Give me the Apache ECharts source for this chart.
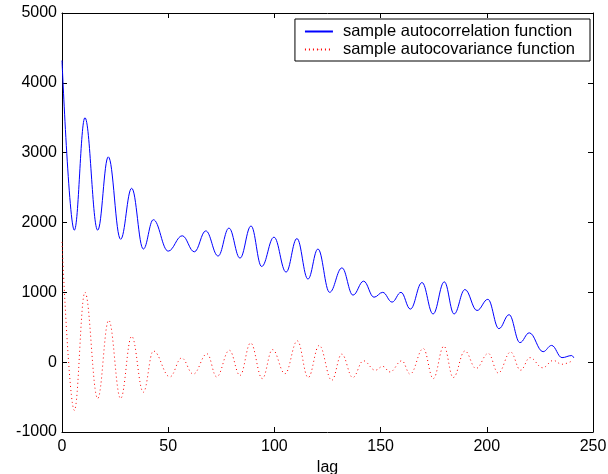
<!DOCTYPE html>
<html>
<head>
<meta charset="utf-8">
<script src="https://cdn.jsdelivr.net/npm/echarts@6/dist/echarts.min.js"></script>
<style>html,body{margin:0;padding:0;background:#fff;}#c{width:608px;height:474px;}</style>
</head>
<body>
<div id="c"></div>
<script>
// Sample autocorrelation function: extrema (lag, value)
const corrLag = [0, 5.8, 10.8, 16.8, 21.8, 27.6, 32.8, 38.3, 43, 50, 56.6, 62.3, 67.7, 73.5, 78.6, 83.8, 89, 94, 99.8, 105.5, 110.6, 115.8, 120.5, 126, 131.8, 137, 142, 146.9, 151, 155.4, 159.6, 164, 169.5, 174.7, 180, 184.6, 189.7, 195.4, 200.5, 205.7, 210.5, 215.6, 220, 226.5, 230.5, 235.4, 240, 241];
const corrVal = [4320, 1890, 3500, 1890, 2940, 1760, 2490, 1620, 2040, 1590, 1810, 1580, 1880, 1520, 1920, 1490, 1950, 1370, 1790, 1290, 1770, 1190, 1620, 1000, 1350, 960, 1160, 930, 1000, 860, 1000, 760, 1140, 690, 1150, 690, 1040, 740, 900, 480, 680, 280, 420, 150, 240, 65, 95, 60];
// Sample autocovariance function
const covLag = [0, 5.8, 10.8, 16.8, 22, 27.6, 32.8, 38.3, 43, 50.8, 56.3, 61.8, 68.3, 72.8, 78.8, 83.8, 88.8, 94.3, 99.1, 105, 110.8, 115.9, 121.1, 127, 131.7, 136.9, 141.9, 147.5, 151, 154.4, 160, 163.9, 170.1, 174.8, 179.8, 184.2, 189.7, 194.9, 200.7, 205.4, 211.2, 215.9, 220.3, 226.3, 231.3, 235.3, 240];
const covVal = [1720, -690, 1000, -520, 600, -520, 370, -430, 160, -210, 60, -170, 120, -210, 170, -190, 275, -235, 180, -165, 305, -220, 240, -260, 115, -220, 20, -115, -60, -140, 20, -170, 195, -235, 230, -220, 160, -90, 125, -155, 145, -115, 65, -80, 25, -30, 15];
const xTicks = [0, 50, 100, 150, 200, 250];
const yTicks = [-1000, 0, 1000, 2000, 3000, 4000, 5000];
const seriesNames = ['sample autocorrelation function', 'sample autocovariance function'];
const seriesColors = ['#0000ff', '#ff0000'];

const zip = (a, b) => a.map((v, i) => [v, b[i]]);
const font = 'Liberation Sans, Arial, Helvetica, sans-serif';
const chart = echarts.init(document.getElementById('c'), null, {renderer: 'canvas'});
const axisCommon = {
  axisLine: {show: true, onZero: false, lineStyle: {color: '#000', width: 1}},
  axisTick: {show: true, inside: true, length: 5, lineStyle: {color: '#000'}},
  splitLine: {show: false}
};
const plain = v => String(v);
// legend icons: a solid line and a dotted line (filled paths)
const solidIcon = 'path://M0,0H28V1H0Z';
let dotted = '';
for (let k = 0; k < 28; k += 4) dotted += 'M' + k + ',0h1v1h-1z';
const dottedIcon = 'path://' + dotted;

chart.setOption({
  backgroundColor: '#fff',
  animation: false,
  grid: {left: 62, right: 15, top: 13, bottom: 42, containLabel: false, outerBoundsMode: 'none'},
  legend: {
    data: seriesNames,
    orient: 'vertical',
    right: 18, top: 19,
    padding: [4, 15, 3, 9],
    itemWidth: 28, itemHeight: 1, itemGap: 1,
    symbolKeepAspect: false,
    backgroundColor: '#fff',
    borderColor: '#000', borderWidth: 1,
    textStyle: {fontFamily: font, fontSize: 16.5, color: '#000', padding: [0, 0, 0, 5]}
  },
  xAxis: [
    Object.assign({type: 'value', min: xTicks[0], max: xTicks[xTicks.length - 1], interval: 50,
      position: 'bottom',
      name: 'lag', nameLocation: 'middle', nameGap: 24,
      nameTextStyle: {fontFamily: font, fontSize: 16, color: '#000'},
      axisLabel: {fontFamily: font, fontSize: 16, color: '#000', margin: 7, formatter: plain}}, axisCommon),
    Object.assign({type: 'value', min: xTicks[0], max: xTicks[xTicks.length - 1], interval: 50,
      position: 'top', axisLabel: {show: false}}, axisCommon)
  ],
  yAxis: [
    Object.assign({type: 'value', min: yTicks[0], max: yTicks[yTicks.length - 1], interval: 1000,
      position: 'left',
      axisLabel: {fontFamily: font, fontSize: 16, color: '#000', margin: 5, formatter: plain}}, axisCommon),
    Object.assign({type: 'value', min: yTicks[0], max: yTicks[yTicks.length - 1], interval: 1000,
      position: 'right', axisLabel: {show: false}}, axisCommon)
  ],
  series: [
    {
      name: seriesNames[0], type: 'line', xAxisIndex: 0, yAxisIndex: 0,
      data: zip(corrLag, corrVal),
      showSymbol: false, symbol: 'none',
      legendIcon: solidIcon,
      smooth: 0.4, smoothMonotone: 'x',
      lineStyle: {color: seriesColors[0], width: 1},
      itemStyle: {color: seriesColors[0]}
    },
    {
      name: seriesNames[1], type: 'line', xAxisIndex: 0, yAxisIndex: 0,
      data: zip(covLag, covVal),
      showSymbol: false, symbol: 'none',
      legendIcon: dottedIcon,
      smooth: 0.4, smoothMonotone: 'x',
      lineStyle: {color: seriesColors[1], width: 1, type: [1, 3]},
      itemStyle: {color: seriesColors[1]}
    }
  ]
});
</script>
</body>
</html>
